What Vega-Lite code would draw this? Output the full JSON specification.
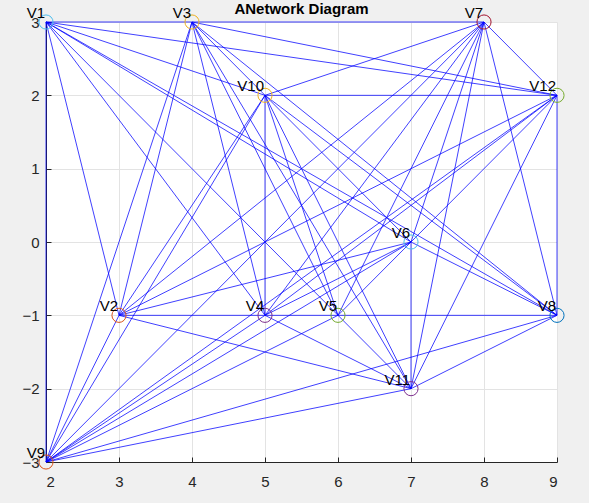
{
  "$schema": "https://vega.github.io/schema/vega-lite/v6.json",
  "width": 511,
  "height": 440,
  "autosize": "none",
  "padding": {"left": 46, "top": 22, "right": 32, "bottom": 41},
  "background": "#f0f0f0",
  "title": {"text": "ANetwork Diagram", "font": "Liberation Sans", "fontSize": 15, "fontWeight": "bold", "color": "#000000", "anchor": "middle", "offset": -11},
  "config": {
    "view": {"fill": "#ffffff", "stroke": null},
    "axis": {
      "labelFont": "Liberation Sans", "labelFontSize": 15, "labelColor": "#262626",
      "gridColor": "#e3e3e3", "gridWidth": 1,
      "domainColor": "#262626", "domainWidth": 1,
      "tickColor": "#262626", "tickSize": -5, "tickWidth": 1
    }
  },
  "datasets": {
    "nodes": [
      {"name": "V1", "x": 2, "y": 3},
      {"name": "V2", "x": 3, "y": -1},
      {"name": "V3", "x": 4, "y": 3},
      {"name": "V4", "x": 5, "y": -1},
      {"name": "V5", "x": 6, "y": -1},
      {"name": "V6", "x": 7, "y": 0},
      {"name": "V7", "x": 8, "y": 3},
      {"name": "V8", "x": 9, "y": -1},
      {"name": "V9", "x": 2, "y": -3},
      {"name": "V10", "x": 5, "y": 2},
      {"name": "V11", "x": 7, "y": -2},
      {"name": "V12", "x": 9, "y": 2}
    ],
    "edges": [
      {"s": "V1", "t": "V7"}, {"s": "V1", "t": "V9"}, {"s": "V1", "t": "V2"}, {"s": "V1", "t": "V4"},
      {"s": "V1", "t": "V11"}, {"s": "V1", "t": "V6"}, {"s": "V1", "t": "V8"}, {"s": "V1", "t": "V10"},
      {"s": "V1", "t": "V12"},
      {"s": "V3", "t": "V9"}, {"s": "V3", "t": "V2"}, {"s": "V3", "t": "V4"}, {"s": "V3", "t": "V5"},
      {"s": "V3", "t": "V11"}, {"s": "V3", "t": "V10"}, {"s": "V3", "t": "V8"}, {"s": "V3", "t": "V12"},
      {"s": "V7", "t": "V10"}, {"s": "V7", "t": "V12"}, {"s": "V7", "t": "V8"}, {"s": "V7", "t": "V11"},
      {"s": "V7", "t": "V5"}, {"s": "V7", "t": "V4"}, {"s": "V7", "t": "V2"}, {"s": "V7", "t": "V9"},
      {"s": "V7", "t": "V6"},
      {"s": "V10", "t": "V12"}, {"s": "V10", "t": "V4"}, {"s": "V10", "t": "V9"}, {"s": "V10", "t": "V2"},
      {"s": "V10", "t": "V6"}, {"s": "V10", "t": "V5"}, {"s": "V10", "t": "V11"}, {"s": "V10", "t": "V8"},
      {"s": "V12", "t": "V8"}, {"s": "V12", "t": "V2"}, {"s": "V12", "t": "V9"}, {"s": "V12", "t": "V4"},
      {"s": "V12", "t": "V5"}, {"s": "V12", "t": "V11"},
      {"s": "V2", "t": "V8"}, {"s": "V2", "t": "V6"}, {"s": "V2", "t": "V11"}, {"s": "V2", "t": "V9"},
      {"s": "V9", "t": "V4"}, {"s": "V9", "t": "V5"}, {"s": "V9", "t": "V6"}, {"s": "V9", "t": "V8"},
      {"s": "V9", "t": "V11"},
      {"s": "V6", "t": "V11"}, {"s": "V6", "t": "V8"}, {"s": "V4", "t": "V11"}, {"s": "V4", "t": "V6"},
      {"s": "V8", "t": "V11"}
    ]
  },
  "layer": [
    {
      "data": {"name": "edges"},
      "transform": [
        {"lookup": "s", "from": {"data": {"name": "nodes"}, "key": "name", "fields": ["x", "y"]}, "as": ["x1", "y1"]},
        {"lookup": "t", "from": {"data": {"name": "nodes"}, "key": "name", "fields": ["x", "y"]}, "as": ["x2", "y2"]}
      ],
      "mark": {"type": "rule", "color": "#0000ff", "strokeWidth": 1, "opacity": 0.75},
      "encoding": {
        "x": {"field": "x1", "type": "quantitative",
              "scale": {"domain": [2, 9], "nice": false, "zero": false},
              "axis": {"values": [2, 3, 4, 5, 6, 7, 8, 9], "format": "d", "title": "X", "titleFont": "Liberation Sans", "titleFontSize": 15, "titleFontWeight": "normal", "titleColor": "#262626", "titlePadding": 13, "labelPadding": 17, "grid": true}},
        "y": {"field": "y1", "type": "quantitative",
              "scale": {"domain": [-3, 3], "nice": false, "zero": false},
              "axis": {"values": [-3, -2, -1, 0, 1, 2, 3], "format": "d", "title": null, "labelPadding": 12, "grid": true}},
        "x2": {"field": "x2"},
        "y2": {"field": "y2"}
      }
    },
    {
      "data": {"name": "nodes"},
      "mark": {"type": "point", "shape": "circle", "filled": false, "size": 200, "strokeWidth": 1, "opacity": 1},
      "encoding": {
        "x": {"field": "x", "type": "quantitative"},
        "y": {"field": "y", "type": "quantitative"},
        "color": {"field": "name", "type": "nominal", "legend": null,
                  "scale": {"domain": ["V1","V2","V3","V4","V5","V6","V7","V8","V9","V10","V11","V12"],
                            "range": ["#4DBEEE","#D95319","#EDB120","#7E2F8E","#77AC30","#4DBEEE","#A2142F","#0072BD","#D95319","#EDB120","#7E2F8E","#77AC30"]}}
      }
    },
    {
      "data": {"name": "nodes"},
      "mark": {"type": "text", "align": "right", "baseline": "alphabetic", "dx": -1, "dy": -4, "font": "Liberation Sans", "fontSize": 15, "color": "#000000"},
      "encoding": {
        "x": {"field": "x", "type": "quantitative"},
        "y": {"field": "y", "type": "quantitative"},
        "text": {"field": "name"}
      }
    }
  ]
}
